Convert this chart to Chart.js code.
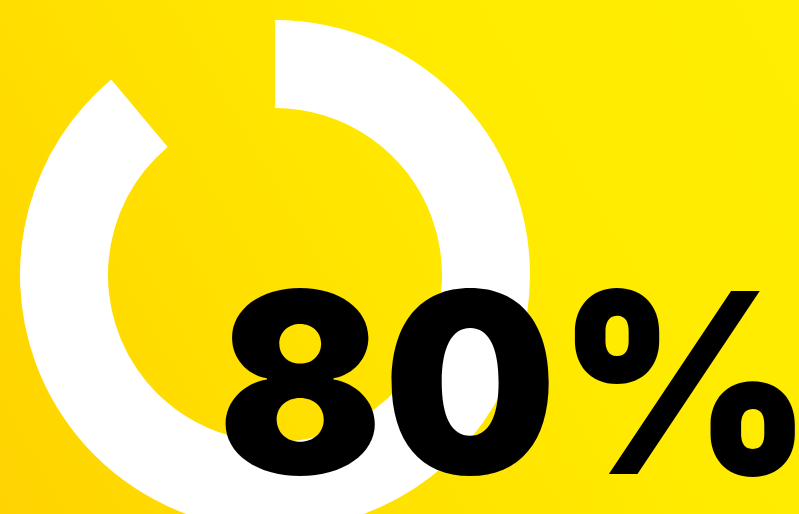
<!DOCTYPE html>
<html>
<head>
<meta charset="utf-8">
<script src="https://cdn.jsdelivr.net/npm/chart.js@4"></script>
<style>
  html, body { margin: 0; padding: 0; width: 799px; height: 514px; overflow: hidden; }
  body {
    position: relative;
    background: linear-gradient(60deg, #ffd300 0%, #ffe100 35%, #ffeb00 65%, #ffee00 100%);
  }
  #wrap { position: absolute; left: 0; top: 0; width: 800px; height: 560px; }
</style>
</head>
<body>
<div id="wrap"><canvas id="ring"></canvas></div>
<script>
const ringParts = ["filled", "gap"];
const ringValues = [88.9, 11.1];
const labelText = "80%";

// big label drawn on the chart canvas, stretched to the box it fills in the picture
const bigLabel = {
    id: "bigLabel",
    afterDraw(chart) {
        const ctx = chart.ctx;
        const left = 225, right = 798, top = 285, baseline = 474;
        ctx.save();
        ctx.font = "900 260px Inter, Lato, sans-serif";
        ctx.textBaseline = "alphabetic";
        const m = ctx.measureText(labelText);
        const inkW = m.actualBoundingBoxLeft + m.actualBoundingBoxRight;
        const inkH = m.actualBoundingBoxAscent;
        const sx = (right - left) / inkW;
        const sy = (baseline - top) / inkH;
        ctx.translate(left, baseline);
        ctx.scale(sx, sy);
        ctx.fillStyle = "#000";
        ctx.fillText(labelText, m.actualBoundingBoxLeft, 0);
        ctx.restore();
    }
};

let ring = new Chart("ring", {
    type: "doughnut",
    data: {
        labels: ringParts,
        datasets: [{
            data: ringValues,
            backgroundColor: ["#ffffff", "rgba(0,0,0,0)"],
            borderWidth: 0
        }]
    },
    options: {
        responsive: true,
        maintainAspectRatio: false,
        animation: false,
        cutout: "65.5%",
        layout: { padding: { left: 20, top: 20, right: 270, bottom: 30 } },
        plugins: {
            legend: { display: false },
            tooltip: { enabled: false }
        }
    },
    plugins: [bigLabel]
});
</script>
</body>
</html>
